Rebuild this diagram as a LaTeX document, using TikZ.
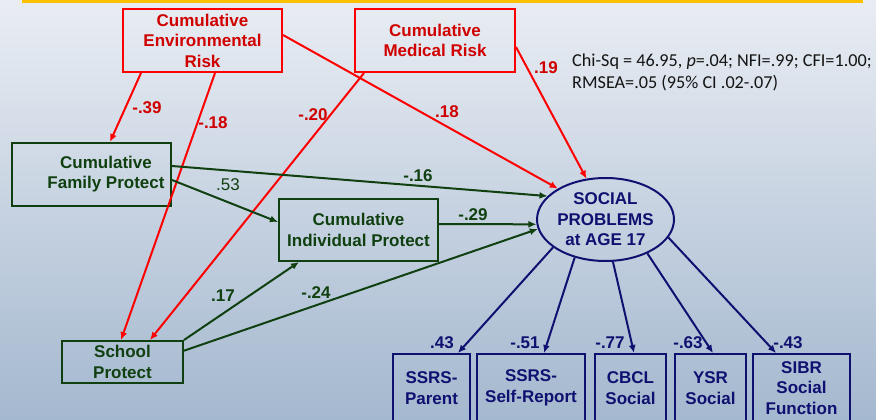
\documentclass[tikz,border=0pt]{standalone}
\usepackage{fontspec}
\setmainfont{Liberation Sans}
\newfontfamily\califont{Carlito}
\usetikzlibrary{arrows.meta,shapes.geometric,calc}
\definecolor{rd}{RGB}{255,0,0}
\definecolor{rdtxt}{RGB}{208,0,0}
\definecolor{grn}{RGB}{16,64,16}
\definecolor{nvy}{RGB}{16,16,112}
\definecolor{bgtop}{RGB}{233,237,243}
\definecolor{bgbot}{RGB}{164,184,207}
\definecolor{gold}{RGB}{255,192,0}
\definecolor{chitxt}{RGB}{20,20,20}
\begin{document}
\begin{tikzpicture}[x=1pt,y=-1pt,
  lbl/.style={font=\fontsize{17}{20.5}\selectfont\bfseries, align=center, inner sep=0pt},
  rbox/.style={draw=rd, line width=2pt, lbl, text=rdtxt},
  gbox/.style={draw=grn, line width=2pt, lbl, text=grn},
  nbox/.style={draw=nvy, line width=2pt, lbl, text=nvy},
  tip/.style={-{Latex[length=8pt,width=7pt]}},
  rarr/.style={draw=rd, line width=2pt, tip},
  garr/.style={draw=grn, line width=2pt, tip},
  narr/.style={draw=nvy, line width=2pt, tip},
  rlab/.style={lbl, text=rdtxt},
  glab/.style={lbl, text=grn},
  nlab/.style={lbl, text=nvy},
  chi/.style={font=\califont\fontsize{18.2}{21.5}\selectfont, text=chitxt, inner sep=0pt}
]
\useasboundingbox (0,0) rectangle (876,420);
\clip (0,0) rectangle (876,420);
\shade[top color=bgtop, bottom color=bgbot] (0,0) rectangle (876,420);
\fill[gold] (22,0) rectangle (863,3.5);

% nodes
\node[rbox, minimum width=159pt, minimum height=63pt] (env) at (202.5,40.5) {Cumulative\\Environmental\\Risk};
\node[rbox, minimum width=160pt, minimum height=63pt] (med) at (435,40.5) {Cumulative\\Medical Risk};
\node[gbox, minimum width=159pt, minimum height=63pt] (fam) at (91.5,174.5) {};
\node[lbl, text=grn] (famtxt) at (106,174) {Cumulative\\Family Protect};
\node[gbox, minimum width=159pt, minimum height=62pt] (ind) at (358.5,230) {Cumulative\\Individual Protect};
\node[gbox, minimum width=121pt, minimum height=42pt] (sch) at (122.5,362) {School\\Protect};
\node[ellipse, draw=nvy, line width=2pt, lbl, text=nvy, minimum width=137pt, minimum height=83pt] (soc) at (605.5,219.5) {SOCIAL\\PROBLEMS\\at AGE 17};
\node[nbox, minimum width=77pt, minimum height=68pt] (b1) at (431.5,388) {SSRS-\\Parent};
\node[nbox, minimum width=108pt, minimum height=68pt] (b2) at (531,388) {SSRS-\\Self-Report};
\node[nbox, minimum width=71pt, minimum height=68pt] (b3) at (630.5,388) {CBCL\\Social};
\node[nbox, minimum width=71pt, minimum height=68pt] (b4) at (710.5,388) {YSR\\Social};
\node[nbox, minimum width=97pt, minimum height=68pt] (b5) at (801.5,388) {SIBR\\Social\\Function};

% red paths
\draw[rarr] ([xshift=19pt]env.south west) -- ([xshift=18.5pt]fam.north);
\draw[rarr] ([xshift=12.5pt]env.south) -- ([xshift=-1.5pt]sch.north);
\draw[rarr] ([xshift=10pt]med.south west) -- ([xshift=-34pt]sch.north east);
\draw[rarr] ([yshift=5.5pt]env.east) -- (soc.147);
\draw[rarr] ([yshift=-6.5pt]med.east) -- (soc.115);

% green paths
\draw[garr] ([yshift=8.5pt]fam.east) -- (soc.158);
\draw[garr] ([yshift=-5.5pt]fam.east) -- ([yshift=8pt]ind.west);
\draw[garr] ([yshift=6pt]ind.east) -- (soc.184);
\draw[garr] (sch.north east) -- ([xshift=21pt]ind.south west);
\draw[garr] ([yshift=11.3pt]sch.east) -- (soc.188);

% navy paths
\draw[narr] (soc.208) -- ([xshift=-13pt]b1.north east);
\draw[narr] (soc.231) -- ([xshift=13pt]b2.north);
\draw[narr] (soc.280) -- ([xshift=3.5pt]b3.north);
\draw[narr] (soc.321) -- ([xshift=2.5pt]b4.north);
\draw[narr] (soc.344) -- ([xshift=-25.5pt]b5.north);

% labels
\node[rlab] (l1) at (147,108) {-.39};
\node[rlab] (l2) at (213,123) {-.18};
\node[rlab] (l3) at (313,115) {-.20};
\node[rlab] (l4) at (447,112) {.18};
\node[rlab] (l5) at (546,68) {.19};
\node[glab] (l6) at (418,176) {-.16};
\node[glab, font=\fontsize{17}{20.5}\selectfont] (l7) at (228,185) {.53};
\node[glab] (l8) at (473,215) {-.29};
\node[glab] (l9) at (223,296) {.17};
\node[glab] (l10) at (316,293) {-.24};
\node[nlab] (l11) at (442,343) {.43};
\node[nlab] (l12) at (525,343) {-.51};
\node[nlab] (l13) at (610,343) {-.77};
\node[nlab] (l14) at (688,343) {-.63};
\node[nlab] (l15) at (788,343) {-.43};

\node[chi, anchor=base west] (chi1) at (572,66.5) {Chi-Sq = 46.95, \textit{p}=.04; NFI=.99; CFI=1.00;};
\node[chi, anchor=base west] (chi2) at (572,88.5) {RMSEA=.05 (95\% CI .02-.07)};
\end{tikzpicture}
\end{document}
